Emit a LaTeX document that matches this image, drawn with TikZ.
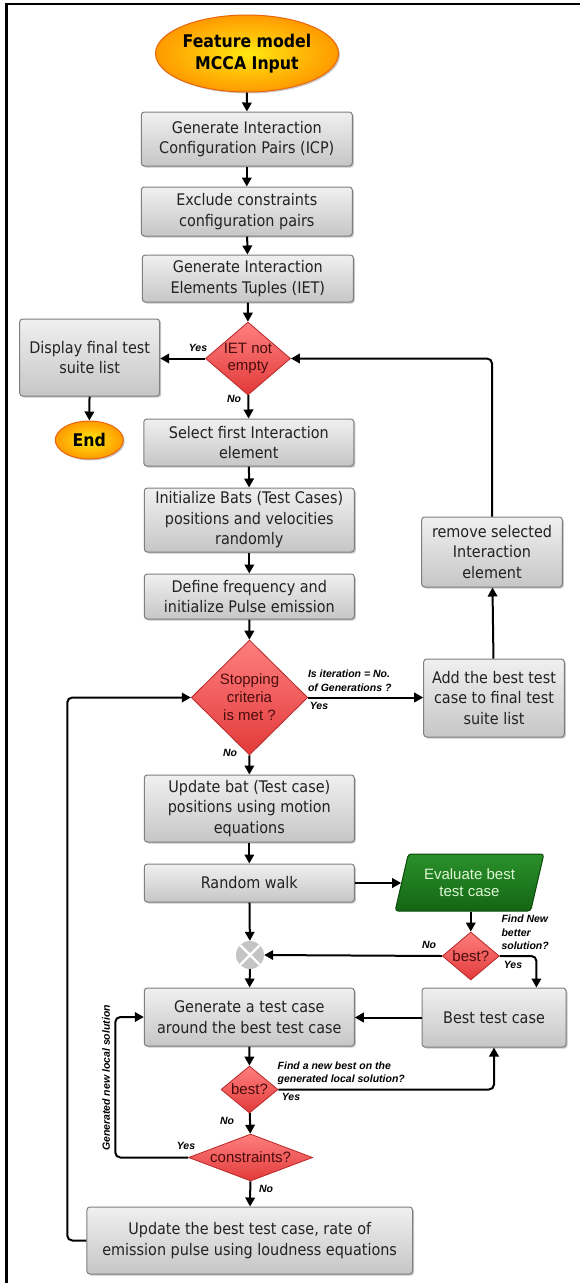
\documentclass[tikz,border=0pt]{standalone}
\usepackage{fontspec}
\setmainfont{Liberation Sans}
\newfontfamily\boxfont{DejaVu Sans Condensed}
\usetikzlibrary{shapes.geometric,arrows.meta,shadows,calc}
\definecolor{boxtop}{HTML}{F0F0F0}
\definecolor{boxbot}{HTML}{C6C6C6}
\definecolor{boxline}{HTML}{7F7F7F}
\definecolor{boxtext}{HTML}{222222}
\definecolor{diatop}{HTML}{FF7F7F}
\definecolor{diabot}{HTML}{E23A3A}
\definecolor{dialine}{HTML}{B82828}
\definecolor{diatext}{HTML}{4A0D0D}
\definecolor{ovin}{HTML}{FFE810}
\definecolor{ovout}{HTML}{FF9A00}
\definecolor{ovline}{HTML}{E8650A}
\definecolor{grtop}{HTML}{2A902A}
\definecolor{grbot}{HTML}{146614}
\definecolor{grline}{HTML}{0B4A0B}
\definecolor{grtext}{HTML}{DDF7D5}
\definecolor{jgray}{HTML}{C4C4C4}
\begin{document}
\begin{tikzpicture}[x=1pt,y=-1pt,
  box/.style={draw=boxline, line width=1pt, rounded corners=3pt, top color=boxtop, bottom color=boxbot,
    drop shadow={shadow xshift=1.5pt, shadow yshift=-1.5pt, fill=black, opacity=0.22},
    inner sep=1pt, align=center, text=boxtext, font=\boxfont\fontsize{16}{20.5}\selectfont},
  dia/.style={diamond, draw=dialine, line width=0.8pt, top color=diatop, bottom color=diabot,
    inner sep=0pt, align=center, text=diatext, font=\fontsize{15}{17}\selectfont},
  oval/.style={ellipse, draw=ovline, line width=1pt, inner color=ovin, outer color=ovout,
    drop shadow={shadow xshift=1.5pt, shadow yshift=-1.5pt, fill=black, opacity=0.2},
    inner sep=0pt, align=center, text=black, font=\boxfont\bfseries\fontsize{17.5}{21.5}\selectfont},
  para/.style={trapezium, trapezium left angle=71, trapezium right angle=109, trapezium stretches=true,
    draw=grline, line width=1pt, rounded corners=3pt, top color=grtop, bottom color=grbot,
    inner sep=0pt, align=center, text=grtext, font=\fontsize{15}{17.5}\selectfont},
  conn/.style={line width=2pt, -{Triangle[length=9pt,width=9.5pt]}, rounded corners=5pt},
  lbl/.style={inner sep=0pt, font=\fontsize{10.5}{13}\selectfont\bfseries\itshape}]
\useasboundingbox (0,0) rectangle (580,1283);
\fill[white] (0,0) rectangle (580,1283);
% frame
\draw[line width=2.5pt] (6.7,1283) -- (6.7,3.8) -- (580,3.8);

% nodes
\node[oval, minimum width=183pt, minimum height=77pt] (start) at (247,53.5) {Feature model\\MCCA Input};
\node[box, minimum width=211pt, minimum height=54pt] (icp) at (246.8,139) {Generate Interaction\\Configuration Pairs (ICP)};
\node[box, minimum width=211pt, minimum height=49pt] (excl) at (246.8,211.5) {Exclude constraints\\configuration pairs};
\node[box, minimum width=211pt, minimum height=47pt] (iet) at (247.8,278.5) {Generate Interaction\\Elements Tuples (IET)};
\node[dia, aspect=1.16, minimum width=85pt, minimum height=73pt] (dIET) at (248,358.5) {IET not\\empty};
\node[box, minimum width=140pt, minimum height=77pt] (disp) at (89.7,357.5) {Display final test\\suite list};
\node[oval, minimum width=68pt, minimum height=38pt] (endn) at (89.3,440) {End};
\node[box, minimum width=210pt, minimum height=47pt] (sel) at (248.8,442.5) {Select first Interaction\\element};
\node[box, minimum width=210pt, minimum height=64pt] (init) at (249.3,520) {Initialize Bats (Test Cases)\\positions and velocities\\randomly};
\node[box, minimum width=210pt, minimum height=45pt] (defn) at (249.3,596.5) {Define frequency and\\initialize Pulse emission};
\node[box, minimum width=140.6pt, minimum height=70pt] (remv) at (492,552) {remove selected\\Interaction\\element};
\node[dia, aspect=1.01, minimum width=116.5pt, minimum height=115pt, font=\fontsize{15}{18}\selectfont] (dStop) at (249.5,697.5) {Stopping\\criteria\\is met ?};
\node[box, minimum width=140.6pt, minimum height=78pt] (addb) at (494,698) {Add the best test\\case to final test\\suite list};
\node[box, minimum width=210pt, minimum height=67pt] (upd) at (249.3,808.5) {Update bat (Test case)\\positions using motion\\equations};
\node[box, minimum width=210pt, minimum height=38pt] (rw) at (249.3,883) {Random walk};
\node[para, minimum width=149pt, minimum height=57pt] (eval) at (469.5,882.5) {Evaluate best\\test case};
\node[circle, fill=jgray, minimum size=28pt, inner sep=0pt,
  path picture={\draw[white, line width=2.2pt]
    (path picture bounding box.north west) -- (path picture bounding box.south east)
    (path picture bounding box.north east) -- (path picture bounding box.south west);}] (jn) at (250,955) {};
\node[dia, aspect=1.19, minimum width=57pt, minimum height=48pt] (dB1) at (470.8,956) {best?};
\node[box, minimum width=210pt, minimum height=58pt] (gen) at (249.3,1017) {Generate a test case\\around the best test case};
\node[box, minimum width=144pt, minimum height=59pt] (best) at (494,1017.5) {Best test case};
\node[dia, aspect=1.21, minimum width=57pt, minimum height=47pt] (dB2) at (249.5,1089.5) {best?};
\node[dia, aspect=2.64, minimum width=124pt, minimum height=47pt] (dC) at (250.6,1157.5) {constraints?};
\node[box, minimum width=325.6pt, minimum height=67pt] (fin) at (249.7,1240.5) {Update the best test case, rate of\\emission pulse using loudness equations};

% connectors
\draw[conn] (start) -- (icp);
\draw[conn] (icp) -- (excl);
\draw[conn] (excl) -- (iet);
\draw[conn] (iet) -- (dIET);
\draw[conn] (dIET.west) -- (dIET.west -| disp.east);
\draw[conn] (disp) -- (endn);
\draw[conn] (dIET) -- (sel);
\draw[conn] (sel) -- (init);
\draw[conn] (init) -- (defn);
\draw[conn] (defn) -- (dStop);
\draw[conn] (dStop.east) -- (dStop.east -| addb.west);
\draw[conn] (addb) -- (remv);
\draw[conn] (remv.north) |- (dIET.east);
\draw[conn] (dStop) -- (upd);
\draw[conn] (upd) -- (rw);
\draw[conn] (rw.east) -- (rw.east -| eval.west);
\draw[conn] (rw) -- (jn);
\draw[conn] (dB1.north |- eval.south) -- (dB1.north);
\draw[conn] (dB1.west) -- (jn.east);
\coordinate (bt) at ($(best.north)+(42.4pt,0)$);
\draw[conn] (dB1.east) -| (bt);
\draw[conn] (jn) -- (gen);
\draw[conn] (best.west) -- (best.west -| gen.east);
\draw[conn] (gen) -- (dB2);
\draw[conn] (dB2.east) -| (best.south);
\draw[conn] (dB2) -- (dC);
\draw[conn] (dC.west) -| ([xshift=-28.5pt]gen.west) -- (gen.west);
\draw[conn] (dC) -- (fin);
\draw[conn] (fin.west) -| ([xshift=-123.6pt]dStop.west) -- (dStop.west);

% labels
\node[lbl] (l1) at (198,348) {Yes};
\node[lbl] (l2) at (234,399) {No};
\node[lbl, anchor=west, align=left, font=\fontsize{10.5}{14}\selectfont\bfseries\itshape] (l3) at (307.8,681) {Is iteration = No.\\of Generations ?};
\node[lbl] (l4) at (319,706) {Yes};
\node[lbl] (l5) at (230,753) {No};
\node[lbl, anchor=west, align=left, font=\fontsize{10.5}{13.5}\selectfont\bfseries\itshape] (l6) at (501.3,932.5) {Find New\\better\\solution?};
\node[lbl] (l7) at (429,945) {No};
\node[lbl] (l8) at (513,965) {Yes};
\node[lbl, anchor=west, align=left] (l9) at (277.5,1073) {Find a new best on the\\generated local solution?};
\node[lbl] (l10) at (291,1097) {Yes};
\node[lbl] (l11) at (227,1121) {No};
\node[lbl] (l12) at (186,1146) {Yes};
\node[lbl] (l13) at (266,1189) {No};
\node[lbl, rotate=90] (l14) at (106,1078) {Generated new local solution};
\end{tikzpicture}
\end{document}
